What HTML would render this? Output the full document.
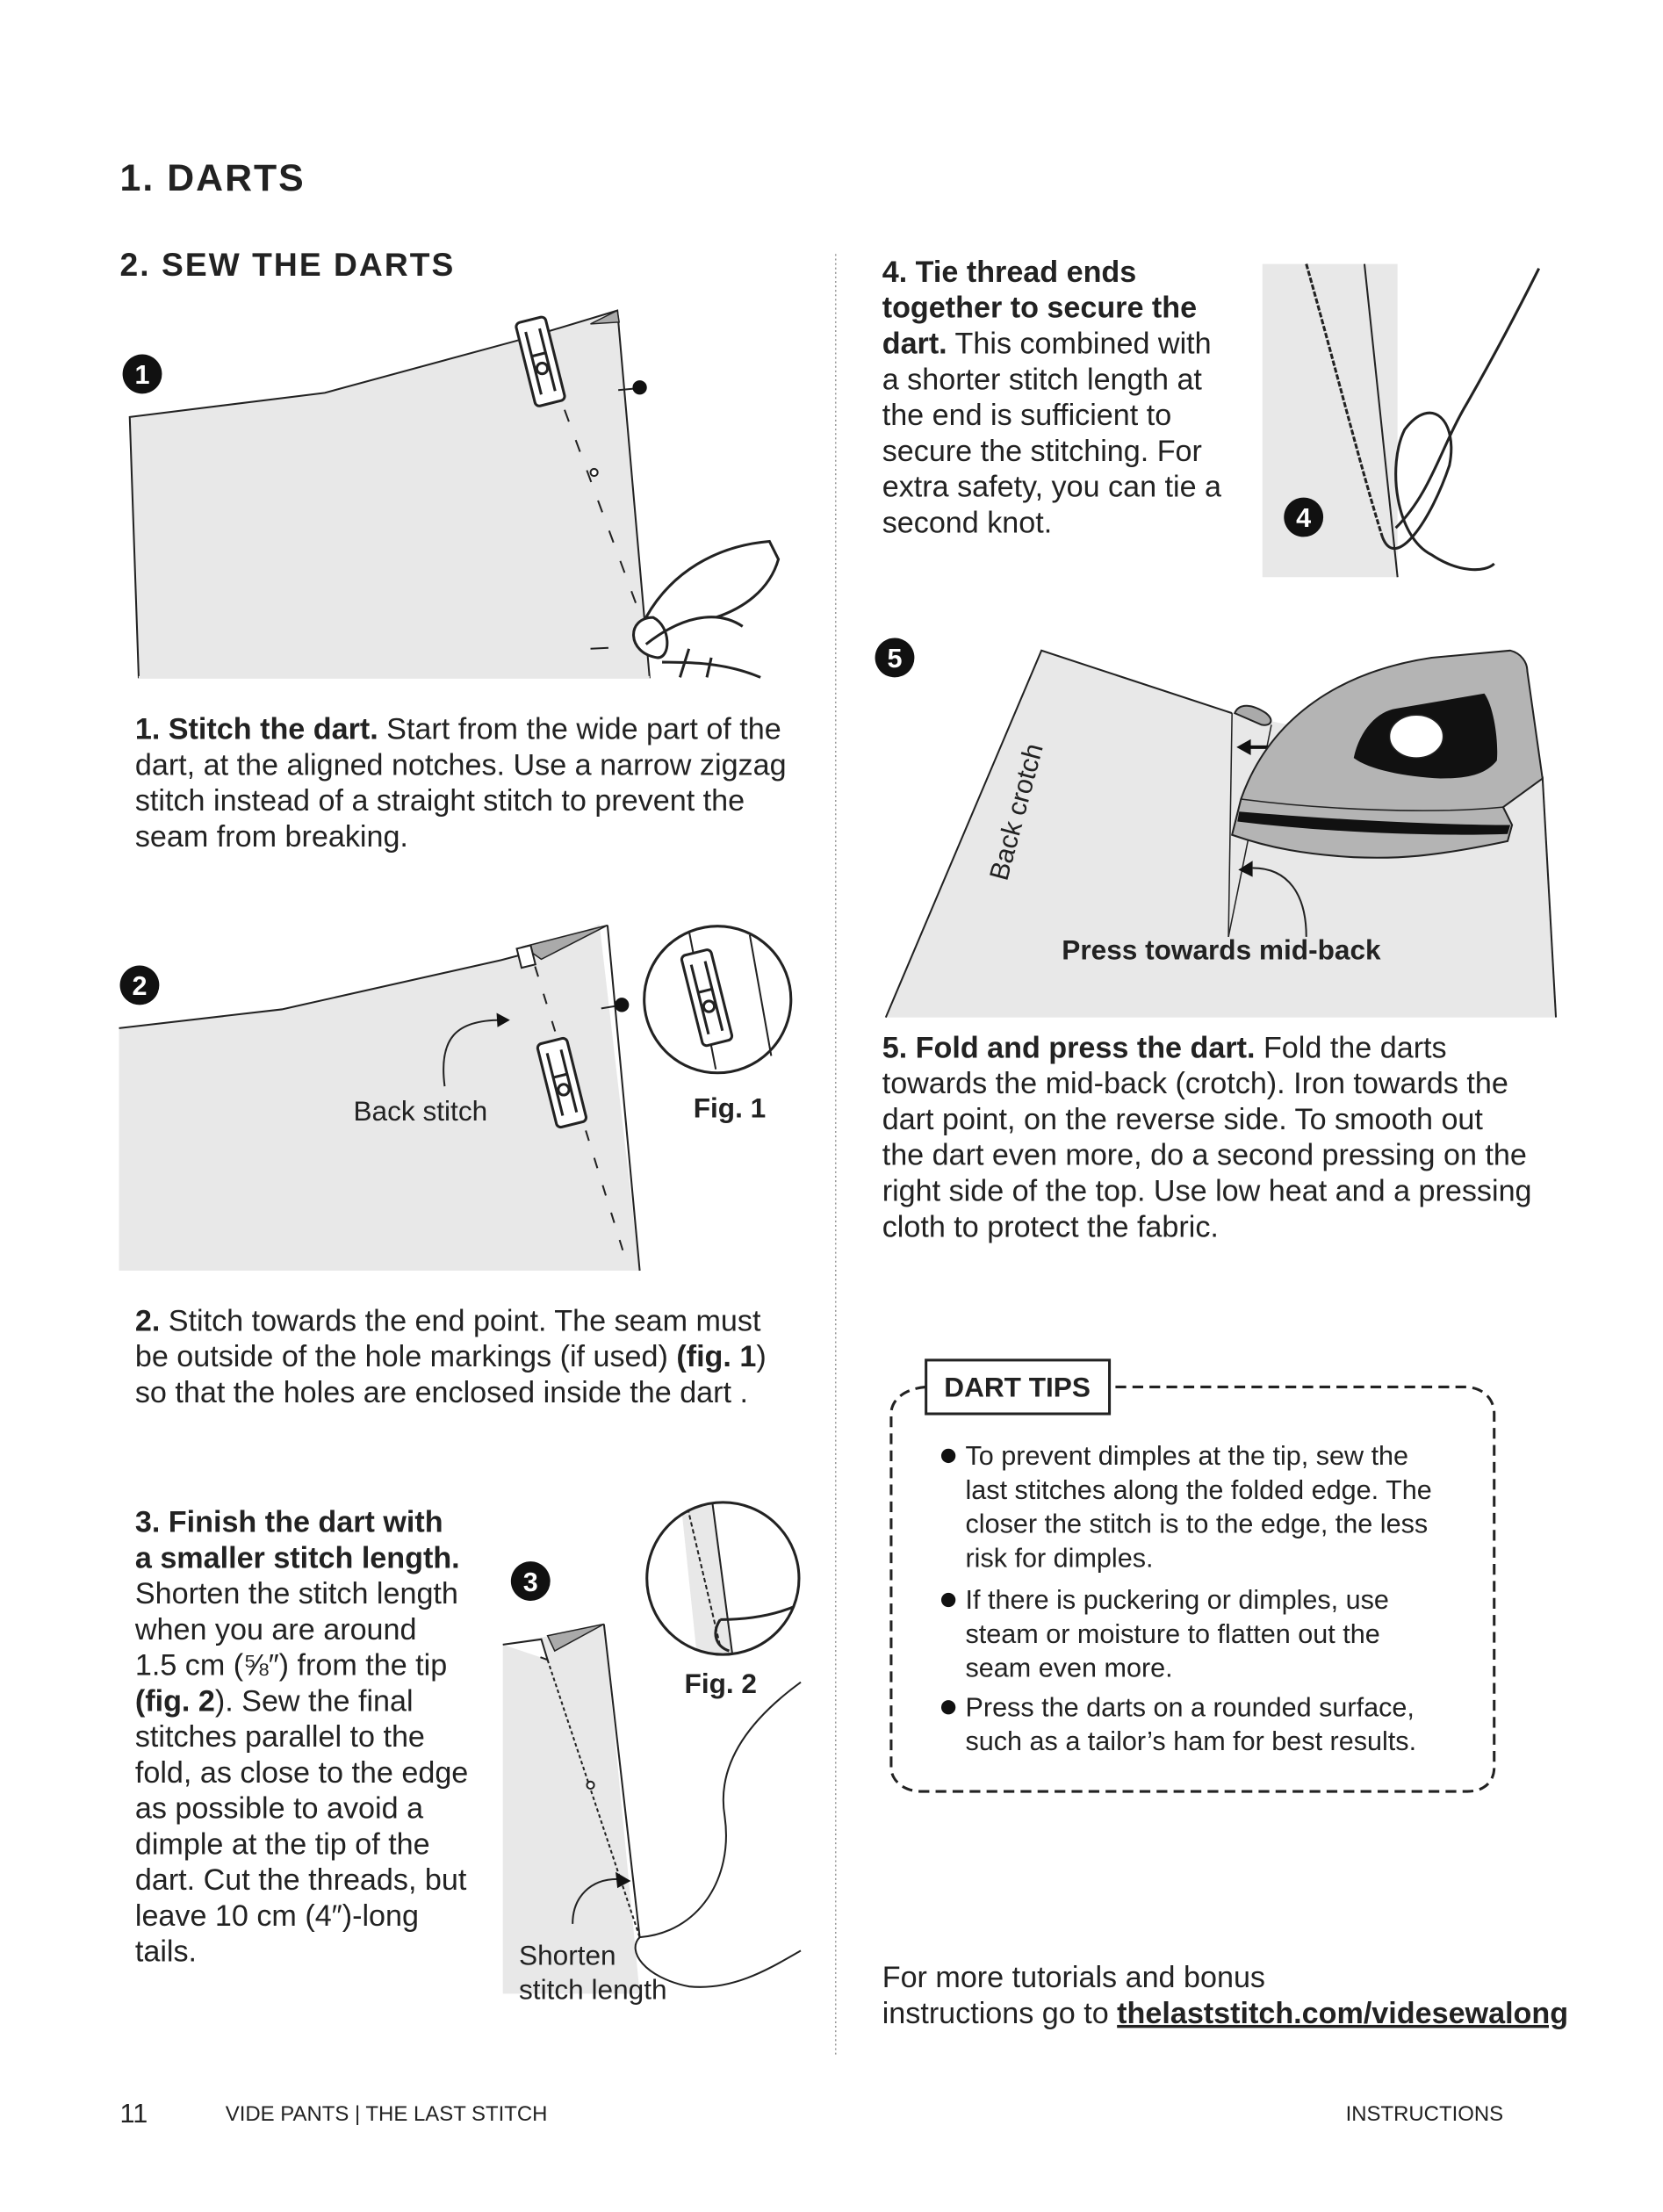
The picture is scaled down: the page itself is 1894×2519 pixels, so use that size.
<!DOCTYPE html>
<html><head><meta charset="utf-8"><style>
html,body{margin:0;padding:0;background:#fff}
svg{display:block}
.t{font-family:"Liberation Sans",sans-serif;font-size:33.5px;fill:#222}
.b{font-weight:bold}
.h{font-family:"Liberation Sans",sans-serif;font-weight:bold;fill:#222;letter-spacing:2px}
.tip{font-family:"Liberation Sans",sans-serif;font-size:30px;fill:#222}
.f{font-family:"Liberation Sans",sans-serif;font-size:31px;fill:#222}
</style></head><body>
<svg width="1894" height="2519" viewBox="0 0 1894 2519" xmlns="http://www.w3.org/2000/svg">
<rect width="1894" height="2519" fill="#fff"/>
<g transform="scale(1.019)">
<text x="134" y="213" class="h" font-size="42">1. DARTS</text>
<text x="134" y="308" class="h" style="font-size:36.5px">2. SEW THE DARTS</text>
<line x1="934" y1="284" x2="934" y2="2296" stroke="#999" stroke-width="1.5" stroke-dasharray="2,3"/>

<!-- Fig 1 -->
<polygon points="145,466 363,439 584,379 690,347 726,757 155,757" fill="#e8e8e8" stroke="#222" stroke-width="2"/>
<line x1="155" y1="757" x2="726" y2="757" stroke="#e8e8e8" stroke-width="3"/>
<polygon points="660,362 690,347 692,360" fill="#aaa" stroke="#222" stroke-width="1.5"/>
<line x1="631" y1="458" x2="718" y2="694" stroke="#222" stroke-width="2" stroke-dasharray="14,22"/>
<circle cx="664" cy="528" r="4" fill="#fff" stroke="#222" stroke-width="2"/>
<line x1="691" y1="436" x2="712" y2="434" stroke="#222" stroke-width="2"/>
<circle cx="715" cy="433" r="8" fill="#111"/>
<line x1="660" y1="725" x2="680" y2="724" stroke="#222" stroke-width="2"/>
<g transform="translate(604,404) rotate(-14)"><rect x="-17" y="-48" width="34" height="96" rx="5" fill="#fff" stroke="#222" stroke-width="3"/><path d="M-8,-36 V36 M8,-36 V36 M-8,-8 H8" stroke="#222" stroke-width="3" fill="none"/><circle cx="0" cy="8" r="6" fill="none" stroke="#222" stroke-width="3"/></g>
<path d="M722,690 C750,640 800,610 860,605 L870,625 C860,660 830,680 800,690 M722,720 C760,690 800,680 830,700 M730,690 C700,690 700,730 735,735 C750,735 750,700 730,690 Z M740,740 C770,740 810,740 850,757 M760,757 L770,725 M790,757 L795,735" fill="#fff" stroke="#222" stroke-width="3"/>
<circle cx="159" cy="418" r="22" fill="#111"/><text x="159" y="429" text-anchor="middle" font-family="Liberation Sans" font-weight="bold" font-size="30" fill="#fff">1</text>

<text class="t" x="151" y="826"><tspan class="b">1. Stitch the dart.</tspan> Start from the wide part of the</text>
<text class="t" x="151" y="866">dart, at the aligned notches. Use a narrow zigzag</text>
<text class="t" x="151" y="906">stitch instead of a straight stitch to prevent the</text>
<text class="t" x="151" y="946">seam from breaking.</text>

<!-- Fig 2 -->
<polygon points="133,1149 315,1128 560,1073 604,1060 670,1033 715,1420 133,1420" fill="#e8e8e8"/>
<polyline points="133,1149 315,1128 560,1073 579,1068" fill="none" stroke="#222" stroke-width="2"/>
<line x1="679" y1="1034" x2="715" y2="1420" stroke="#222" stroke-width="2"/>
<polygon points="585,1058 679,1034 605,1072" fill="#aaa" stroke="#222" stroke-width="1.5"/>
<rect x="580" y="1058" width="16" height="22" fill="#fff" stroke="#222" stroke-width="2" transform="rotate(-14 588 1069)"/>
<line x1="598" y1="1080" x2="700" y2="1410" stroke="#222" stroke-width="2" stroke-dasharray="12,20"/>
<line x1="672" y1="1127" x2="690" y2="1124" stroke="#222" stroke-width="2"/>
<circle cx="695" cy="1123" r="8" fill="#111"/>
<g transform="translate(628,1210) rotate(-14)"><rect x="-17" y="-48" width="34" height="96" rx="5" fill="#fff" stroke="#222" stroke-width="3"/><path d="M-8,-36 V36 M8,-36 V36 M-8,-8 H8" stroke="#222" stroke-width="3" fill="none"/><circle cx="0" cy="8" r="6" fill="none" stroke="#222" stroke-width="3"/></g>
<path d="M497,1214 C490,1160 510,1140 560,1140" fill="none" stroke="#222" stroke-width="2"/>
<polygon points="570,1140 555,1132 556,1148" fill="#111"/>
<circle cx="156" cy="1101" r="22" fill="#111"/><text x="156" y="1112" text-anchor="middle" font-family="Liberation Sans" font-weight="bold" font-size="30" fill="#fff">2</text>
<circle cx="802" cy="1117" r="82" fill="#fff" stroke="#222" stroke-width="3"/>
<line x1="770" y1="1040" x2="800" y2="1195" stroke="#222" stroke-width="2"/>
<line x1="838" y1="1045" x2="862" y2="1180" stroke="#222" stroke-width="2"/>
<g transform="translate(790,1115) rotate(-14)"><rect x="-17" y="-52" width="34" height="104" rx="5" fill="#fff" stroke="#222" stroke-width="3"/><path d="M-8,-40 V40 M8,-40 V40 M-8,-8 H8" stroke="#222" stroke-width="3" fill="none"/><circle cx="0" cy="10" r="6" fill="none" stroke="#222" stroke-width="3"/></g>
<text class="f" x="395" y="1252">Back stitch</text>
<text class="f b" x="775" y="1249">Fig. 1</text>

<text class="t" x="151" y="1487"><tspan class="b">2.</tspan> Stitch towards the end point. The seam must</text>
<text class="t" x="151" y="1527">be outside of the hole markings (if used) <tspan class="b">(fig. 1</tspan>)</text>
<text class="t" x="151" y="1567">so that the holes are enclosed inside the dart .</text>

<text class="t" x="151" y="1712"><tspan class="b">3. Finish the dart with</tspan></text>
<text class="t b" x="151" y="1752">a smaller stitch length.</text>
<text class="t" x="151" y="1792">Shorten the stitch length</text>
<text class="t" x="151" y="1832">when you are around</text>
<text class="t" x="151" y="1872">1.5 cm (⅝″) from the tip</text>
<text class="t" x="151" y="1912"><tspan class="b">(fig. 2</tspan>). Sew the final</text>
<text class="t" x="151" y="1952">stitches parallel to the</text>
<text class="t" x="151" y="1992">fold, as close to the edge</text>
<text class="t" x="151" y="2032">as possible to avoid a</text>
<text class="t" x="151" y="2072">dimple at the tip of the</text>
<text class="t" x="151" y="2112">dart. Cut the threads, but</text>
<text class="t" x="151" y="2152">leave 10 cm (4″)-long</text>
<text class="t" x="151" y="2192">tails.</text>

<!-- Fig 3 -->
<polygon points="562,1838 605,1830 675,1815 715,2228 562,2228" fill="#e8e8e8"/>
<line x1="675" y1="1815" x2="715" y2="2165" stroke="#222" stroke-width="2"/>
<polygon points="612,1828 675,1815 620,1845" fill="#aaa" stroke="#222" stroke-width="1.5"/>
<polyline points="562,1838 605,1832 612,1855 604,1852" fill="#fff" stroke="#222" stroke-width="2"/>
<line x1="612" y1="1855" x2="715" y2="2165" stroke="#222" stroke-width="2" stroke-dasharray="4,3"/>
<circle cx="660" cy="1995" r="4" fill="#fff" stroke="#222" stroke-width="2"/>
<path d="M715,2165 C780,2160 820,2100 810,2030 C800,1970 840,1920 895,1880 M715,2165 C700,2180 720,2210 770,2220 C820,2225 860,2200 895,2180" fill="none" stroke="#222" stroke-width="2"/>
<path d="M640,2150 C640,2120 660,2100 690,2100" fill="none" stroke="#222" stroke-width="2"/>
<polygon points="705,2102 688,2092 690,2110" fill="#111"/>
<circle cx="593" cy="1767" r="22" fill="#111"/><text x="593" y="1778" text-anchor="middle" font-family="Liberation Sans" font-weight="bold" font-size="30" fill="#fff">3</text>
<clipPath id="c2"><circle cx="808" cy="1764" r="85"/></clipPath>
<g clip-path="url(#c2)"><rect x="720" y="1670" width="180" height="190" fill="#fff"/><polygon points="760,1670 795,1670 820,1860 780,1860" fill="#e8e8e8"/><line x1="795" y1="1670" x2="820" y2="1860" stroke="#222" stroke-width="2"/><line x1="765" y1="1670" x2="805" y2="1840" stroke="#222" stroke-width="2" stroke-dasharray="5,3"/><path d="M805,1810 C850,1810 880,1800 900,1790 M805,1810 C795,1825 800,1840 815,1845" fill="none" stroke="#222" stroke-width="3"/></g>
<circle cx="808" cy="1764" r="85" fill="none" stroke="#222" stroke-width="3"/>
<text class="f b" x="765" y="1892">Fig. 2</text>
<text class="f" x="580" y="2196">Shorten</text>
<text class="f" x="580" y="2234">stitch length</text>

<!-- Right column text 4 -->
<text class="t b" x="986" y="315">4. Tie thread ends</text>
<text class="t b" x="986" y="355">together to secure the</text>
<text class="t" x="986" y="395"><tspan class="b">dart.</tspan> This combined with</text>
<text class="t" x="986" y="435">a shorter stitch length at</text>
<text class="t" x="986" y="475">the end is sufficient to</text>
<text class="t" x="986" y="515">secure the stitching. For</text>
<text class="t" x="986" y="555">extra safety, you can tie a</text>
<text class="t" x="986" y="595">second knot.</text>

<!-- Fig 4 -->
<rect x="1411" y="295" width="151" height="350" fill="#e8e8e8"/>
<line x1="1525" y1="295" x2="1562" y2="645" stroke="#222" stroke-width="2"/>
<path d="M1460,295 C1490,400 1520,520 1545,600" fill="none" stroke="#222" stroke-width="3" stroke-dasharray="6,2"/>
<path d="M1545,600 C1560,640 1600,580 1620,520 C1630,470 1600,440 1570,480 C1550,520 1560,600 1600,620 C1630,640 1660,640 1670,630 M1560,590 C1600,550 1610,500 1640,450 C1680,380 1710,320 1720,300" fill="none" stroke="#222" stroke-width="3"/>
<circle cx="1457" cy="578" r="22" fill="#111"/><text x="1457" y="589" text-anchor="middle" font-family="Liberation Sans" font-weight="bold" font-size="30" fill="#fff">4</text>

<!-- Fig 5 -->
<polygon points="1164,727 1377,797 1724,868 1739,1137 990,1137" fill="#e8e8e8"/>
<polyline points="990,1137 1164,727 1377,797" fill="none" stroke="#222" stroke-width="2"/>
<line x1="1724" y1="868" x2="1739" y2="1137" stroke="#222" stroke-width="2"/>
<line x1="1377" y1="797" x2="1373" y2="1047" stroke="#222" stroke-width="1.5"/>
<line x1="1421" y1="810" x2="1373" y2="1047" stroke="#222" stroke-width="1.5"/>
<path d="M1380,797 C1385,785 1400,787 1415,797 C1425,805 1420,812 1410,810 Z" fill="#aaa" stroke="#222" stroke-width="2"/>
<line x1="1395" y1="835" x2="1421" y2="835" stroke="#111" stroke-width="4"/><polygon points="1382,835 1398,826 1398,844" fill="#111"/>
<path d="M1460,1047 C1460,1000 1440,970 1400,970" fill="none" stroke="#222" stroke-width="2"/><polygon points="1384,972 1400,962 1400,980" fill="#111"/>
<path d="M1377,933 L1387,893 C1420,800 1500,750 1600,735 L1688,727 C1700,730 1707,740 1707,750 L1724,870 L1680,902 L1690,922 L1685,940 C1600,958 1560,960 1513,958 C1460,955 1420,948 1377,933 Z" fill="#b4b4b4" stroke="#222" stroke-width="2"/>
<path d="M1385,907 C1480,915 1600,922 1688,922 L1685,932 C1600,935 1480,930 1383,918 Z" fill="#111"/>
<path d="M1387,893 C1480,905 1600,910 1680,902" fill="none" stroke="#222" stroke-width="1.5"/>
<path d="M1513,847 C1520,815 1540,795 1560,792 L1659,775 C1670,790 1675,830 1673,850 C1660,866 1640,870 1610,870 C1570,868 1530,860 1513,847 Z" fill="#111"/>
<ellipse cx="1583" cy="823" rx="30" ry="24" fill="#fff" stroke="#222" stroke-width="1.5"/>
<text x="1135" y="918" transform="rotate(-75 1135 907)" text-anchor="middle" font-family="Liberation Sans" font-size="30" fill="#222">Back crotch</text>
<text class="f b" x="1365" y="1072" text-anchor="middle">Press towards mid-back</text>
<circle cx="1000" cy="735" r="22" fill="#111"/><text x="1000" y="746" text-anchor="middle" font-family="Liberation Sans" font-weight="bold" font-size="30" fill="#fff">5</text>

<text class="t" x="986" y="1182"><tspan class="b">5. Fold and press the dart.</tspan> Fold the darts</text>
<text class="t" x="986" y="1222">towards the mid-back (crotch). Iron towards the</text>
<text class="t" x="986" y="1262">dart point, on the reverse side. To smooth out</text>
<text class="t" x="986" y="1302">the dart even more, do a second pressing on the</text>
<text class="t" x="986" y="1342">right side of the top. Use low heat and a pressing</text>
<text class="t" x="986" y="1382">cloth to protect the fabric.</text>

<!-- Dart tips -->
<path d="M1035,1550 C1010,1552 996,1565 996,1580 L996,1975 C996,1990 1010,2002 1030,2002 L1640,2002 C1660,2002 1670,1990 1670,1975 L1670,1580 C1670,1565 1660,1552 1640,1550 L1240,1550" fill="none" stroke="#222" stroke-width="3" stroke-dasharray="12,7"/>
<rect x="1035" y="1520" width="205" height="60" fill="#fff" stroke="#222" stroke-width="3"/>
<text x="1137" y="1561" text-anchor="middle" font-family="Liberation Sans" font-weight="bold" font-size="31" fill="#222">DART TIPS</text>
<circle cx="1060" cy="1627" r="8" fill="#111"/><circle cx="1060" cy="1788" r="8" fill="#111"/><circle cx="1060" cy="1908" r="8" fill="#111"/>
<text class="tip" x="1079" y="1637">To prevent dimples at the tip, sew the</text>
<text class="tip" x="1079" y="1675">last stitches along the folded edge. The</text>
<text class="tip" x="1079" y="1713">closer the stitch is to the edge, the less</text>
<text class="tip" x="1079" y="1751">risk for dimples.</text>
<text class="tip" x="1079" y="1798">If there is puckering or dimples, use</text>
<text class="tip" x="1079" y="1836">steam or moisture to flatten out the</text>
<text class="tip" x="1079" y="1874">seam even more.</text>
<text class="tip" x="1079" y="1918">Press the darts on a rounded surface,</text>
<text class="tip" x="1079" y="1956">such as a tailor’s ham for best results.</text>

<text class="t" x="986" y="2221">For more tutorials and bonus</text>
<text class="t" x="986" y="2261">instructions go to <tspan class="b" text-decoration="underline">thelaststitch.com/videsewalong</tspan></text>

<text x="134" y="2372" font-family="Liberation Sans" font-size="30" fill="#222">11</text>
<text x="252" y="2370" font-family="Liberation Sans" font-size="23.5" fill="#222">VIDE PANTS | THE LAST STITCH</text>
<text x="1504" y="2370" font-family="Liberation Sans" font-size="23.5" fill="#222">INSTRUCTIONS</text>
</g>
</svg>
</body></html>
